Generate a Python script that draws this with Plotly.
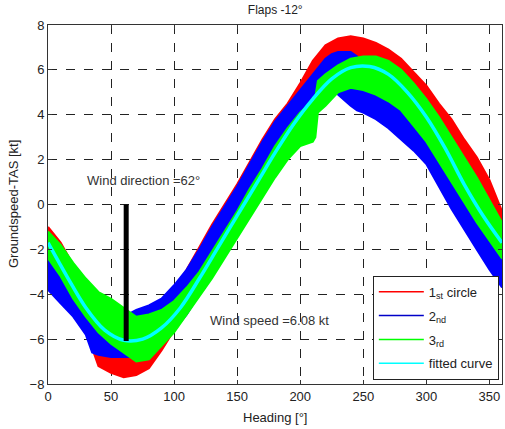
import plotly.graph_objects as go

# ---------------- data ----------------
wind_direction = 62
wind_speed = 6.08

red_h  = [0, 10, 20, 30, 40, 50, 60, 70, 80, 90, 100, 110, 120, 130, 140, 150, 160, 170, 180,
          190, 200, 210, 220, 230, 240, 250, 260, 270, 280, 290, 300, 310, 320, 330, 340, 350, 360]
red_hi = [-1.0, -1.7, -2.7, -3.9, -5.0, -5.5, -5.6, -5.4, -5.0, -4.5, -3.8, -2.9, -1.9, -0.9, 0.0, 0.9, 1.9, 2.9, 3.8,
          4.5, 5.4, 6.4, 7.1, 7.4, 7.5, 7.4, 7.2, 6.9, 6.5, 5.9, 5.3, 4.5, 3.8, 2.9, 2.1, 1.1, -0.3]
red_lo = [-2.6, -3.4, -4.3, -5.6, -7.2, -7.5, -7.7, -7.6, -7.3, -6.5, -5.6, -4.8, -3.9, -2.9, -1.9, -0.8, 0.3, 1.3, 2.3,
          3.2, 4.2, 4.8, 5.2, 5.6, 5.8, 5.8, 5.6, 5.2, 4.6, 3.8, 3.0, 2.2, 1.4, 0.6, -0.2, -1.0, -1.9]

blue_h  = [0, 10, 20, 30, 35, 40, 50, 60, 70, 80, 90, 100, 110, 120, 130, 140, 150, 160, 170, 180,
           190, 200, 210, 220, 225, 230, 240, 245, 250, 260, 270, 280, 290, 300, 310, 320, 330, 340, 350, 360]
blue_hi = [-2.0, -2.7, -3.5, -4.3, -4.6, -4.9, -5.2, -5.0, -4.7, -4.5, -4.2, -3.6, -2.9, -2.0, -1.0, -0.1, 0.8, 1.8, 2.8, 3.7,
           4.4, 5.1, 5.8, 6.5, 6.7, 6.8, 6.8, 6.6, 5.4, 5.2, 4.9, 4.5, 4.1, 3.6, 2.8, 2.0, 1.1, 0.3, -0.6, -1.7]
blue_lo = [-3.8, -4.4, -5.0, -5.8, -6.6, -6.7, -6.8, -6.8, -6.8, -6.6, -6.2, -5.6, -4.9, -4.0, -3.0, -2.0, -0.9, 0.2, 1.2, 2.2,
           3.1, 3.8, 4.5, 5.4, 5.5, 4.9, 4.4, 4.2, 4.1, 3.8, 3.4, 2.9, 2.4, 1.8, 0.8, -0.2, -1.1, -2.0, -2.9, -3.7]

green_h  = [0, 10, 20, 30, 40, 50, 60, 70, 80, 90, 100, 110, 120, 130, 140, 150, 160, 170, 180, 190,
            200, 210, 212, 214, 220, 230, 240, 250, 260, 270, 280, 290, 300, 310, 320, 330, 340, 350, 360]
green_hi = [-1.2, -1.8, -2.6, -3.3, -3.9, -4.2, -4.6, -5.0, -4.9, -4.7, -4.3, -3.7, -3.0, -2.1, -1.2, -0.3, 0.7, 1.6, 2.6, 3.4,
            4.1, 4.6, 4.8, 5.5, 5.8, 6.2, 6.5, 6.6, 6.6, 6.4, 6.0, 5.4, 4.7, 3.9, 3.0, 2.1, 1.2, 0.2, -0.8]
green_lo = [-2.4, -3.2, -4.2, -5.0, -5.7, -6.2, -6.6, -7.0, -6.9, -6.3, -5.7, -4.9, -4.1, -3.3, -2.4, -1.5, -0.6, 0.3, 1.2, 2.0,
            2.6, 2.8, 3.0, 4.1, 4.4, 5.0, 5.2, 5.1, 4.9, 4.6, 4.2, 3.5, 2.8, 1.9, 1.0, 0.1, -0.8, -1.6, -2.4]

fit_h = [0, 15, 30, 45, 60, 75, 90, 105, 120, 135, 150, 165, 180, 195, 210, 225, 240, 255, 270, 285, 300, 315, 330, 345, 360]
fit_v = [-1.7, -3.2, -4.6, -5.6, -6.05, -6.0, -5.5, -4.6, -3.3, -1.9, -0.5, 0.9, 2.3, 3.6, 4.7, 5.6, 6.1, 6.15, 5.8, 5.0,
         3.9, 2.5, 0.9, -0.5, -1.7]

x_ticks = [0, 50, 100, 150, 200, 250, 300, 350]
y_ticks = [-8, -6, -4, -2, 0, 2, 4, 6, 8]

# ---------------- figure ----------------
FONT = "Liberation Sans, Arial, sans-serif"
TXT = "#222"
FS = 13
fig = go.Figure()


def band(h, lo, hi, color):
    fig.add_trace(go.Scatter(
        x=list(h) + list(h)[::-1], y=list(hi) + list(lo)[::-1],
        mode="lines", fill="toself", fillcolor=color,
        line=dict(color=color, width=2), showlegend=False, hoverinfo="skip"))


band(red_h, red_lo, red_hi, "#ff0000")
band(blue_h, blue_lo, blue_hi, "#0000ff")
band(green_h, green_lo, green_hi, "#00ff00")

fig.add_trace(go.Scatter(x=fit_h, y=fit_v, mode="lines", line=dict(color="#00ffff", width=3.5),
                         line_shape="spline", showlegend=False))

fig.add_trace(go.Scatter(x=[wind_direction, wind_direction], y=[0, -wind_speed], mode="lines",
                         line=dict(color="black", width=5), showlegend=False))

# legend entries (lines, as in the original)
for name, col in [("1<sub>st</sub> circle", "#ff0000"), ("2<sub>nd</sub>", "#0000c8"),
                  ("3<sub>rd</sub>", "#00ff00"), ("fitted curve", "#00ffff")]:
    fig.add_trace(go.Scatter(x=[None], y=[None], mode="lines", name=name, legendgroup=name,
                             line=dict(color=col, width=1.5)))

fig.add_annotation(x=29, y=1.05, xanchor="left", yanchor="middle", showarrow=False,
                   text="Wind direction =%d°" % wind_direction, font=dict(family=FONT, size=FS, color="#333"))
fig.add_annotation(x=126.5, y=-5.19, xanchor="left", yanchor="middle", showarrow=False,
                   text="Wind speed =%.2f kt" % wind_speed, font=dict(family=FONT, size=FS, color="#333"))

# axis titles as paper annotations (fixed positions)
fig.add_annotation(xref="paper", yref="paper", x=0.5, y=-0.068, xanchor="center", yanchor="top",
                   showarrow=False, text="Heading [°]", font=dict(family=FONT, size=FS, color=TXT))
fig.add_annotation(xref="paper", yref="paper", x=-0.055, y=0.5, xanchor="right", yanchor="middle",
                   textangle=-90, showarrow=False, text="Groundspeed-TAS [kt]",
                   font=dict(family=FONT, size=FS, color=TXT))

axis_common = dict(showline=True, linecolor="#333", linewidth=1, mirror="ticks", ticks="inside", ticklen=4,
                   tickcolor="#333", showgrid=True, gridcolor="#222", griddash="dash", gridwidth=1,
                   zeroline=False, automargin=False, tickfont=dict(family=FONT, size=FS, color=TXT))

fig.update_layout(
    width=505, height=429,
    margin=dict(l=48, r=3, t=25, b=45),
    paper_bgcolor="white", plot_bgcolor="white",
    title=dict(text="Flaps -12°", x=0.545, xanchor="center", y=0.988, yanchor="top",
               font=dict(family=FONT, size=12, color=TXT)),
    xaxis=dict(range=[0, 360], tickvals=x_ticks, **axis_common),
    yaxis=dict(range=[-8, 8], tickvals=y_ticks, **axis_common),
    legend=dict(x=0.993, y=0.012, xanchor="right", yanchor="bottom", bgcolor="white",
                bordercolor="#222", borderwidth=1, tracegroupgap=4, itemwidth=45,
                font=dict(family=FONT, size=FS, color=TXT)),
    font=dict(family=FONT),
)

fig.write_html("out.html", config={"displayModeBar": False},
               post_script="document.body.style.margin='0';")
